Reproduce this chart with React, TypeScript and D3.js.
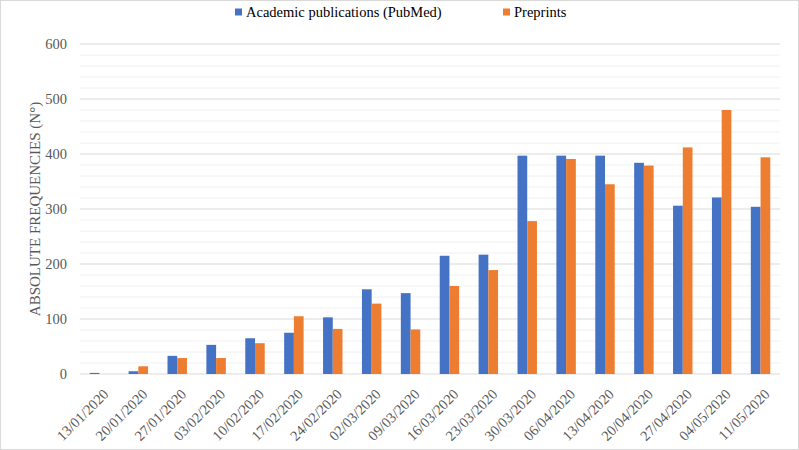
import React from "react";
import * as d3 from "d3";

const categories = [
  "13/01/2020", "20/01/2020", "27/01/2020", "03/02/2020", "10/02/2020", "17/02/2020",
  "24/02/2020", "02/03/2020", "09/03/2020", "16/03/2020", "23/03/2020", "30/03/2020",
  "06/04/2020", "13/04/2020", "20/04/2020", "27/04/2020", "04/05/2020", "11/05/2020",
];
const pubmed = [2, 5, 33, 53, 65, 75, 103, 154, 147, 215, 217, 397, 397, 397, 384, 306, 321, 304];
const preprints = [0, 14, 29, 29, 56, 105, 82, 128, 81, 160, 189, 278, 391, 345, 379, 412, 480, 394];
const seriesNames = ["Academic publications (PubMed)", "Preprints"];
const colors = ["#4472C4", "#ED7D31"];
const yTicks = [0, 100, 200, 300, 400, 500, 600];

const W = 799;
const H = 450;
const left = 80;
const right = 780;
const top = 44;
const bottom = 374;
const font = "'Liberation Serif', 'Times New Roman', serif";

export default function App() {
  const x = d3.scaleBand<string>().domain(categories).range([left, right]).paddingInner(0).paddingOuter(0);
  const y = d3.scaleLinear().domain([0, 600]).range([bottom, top]);
  const bw = x.bandwidth() * 0.25;
  const minor = d3.range(0, 601, 20).filter((v) => v % 100 !== 0);

  return (
    <svg width={W} height={H} style={{ position: "absolute", left: 0, top: 0, background: "#fff" }}>
      <rect x={0.5} y={0.5} width={W - 1} height={H - 1} fill="#fff" stroke="#d9d9d9" />
      {minor.map((v) => (
        <line key={"m" + v} x1={left} x2={right} y1={y(v)} y2={y(v)} stroke="#f0f0f0" strokeWidth={1} />
      ))}
      {yTicks.map((v) => (
        <line key={"g" + v} x1={left} x2={right} y1={y(v)} y2={y(v)} stroke="#d9d9d9" strokeWidth={1} />
      ))}
      {yTicks.map((v) => (
        <text key={"t" + v} x={67} y={y(v)} dy="0.35em" textAnchor="end" fontFamily={font} fontSize={14.5} fill="#595959">
          {v}
        </text>
      ))}
      {categories.map((c, i) => {
        const cx = (x(c) as number) + x.bandwidth() / 2;
        return (
          <g key={c}>
            <rect x={cx - bw} y={y(pubmed[i])} width={bw} height={y(0) - y(pubmed[i])} fill={colors[0]} />
            <rect x={cx} y={y(preprints[i])} width={bw} height={y(0) - y(preprints[i])} fill={colors[1]} />
            <text
              transform={`translate(${cx + 10},${bottom + 21}) rotate(-45)`}
              textAnchor="end"
              fontFamily={font}
              fontSize={14.5}
              fill="#595959"
            >
              {c}
            </text>
          </g>
        );
      })}
      <text
        transform={`translate(40,${(top + bottom) / 2}) rotate(-90)`}
        textAnchor="middle"
        fontFamily={font}
        fontSize={15}
        fill="#595959"
      >
        ABSOLUTE FREQUENCIES (N°)
      </text>
      {seriesNames.map((s, i) => {
        const lx = i === 0 ? 235 : 503;
        return (
          <g key={s}>
            <rect x={lx} y={8.5} width={7} height={7} fill={colors[i]} />
            <text x={lx + 11} y={17} fontFamily={font} fontSize={14.5} fill="#000">
              {s}
            </text>
          </g>
        );
      })}
    </svg>
  );
}
